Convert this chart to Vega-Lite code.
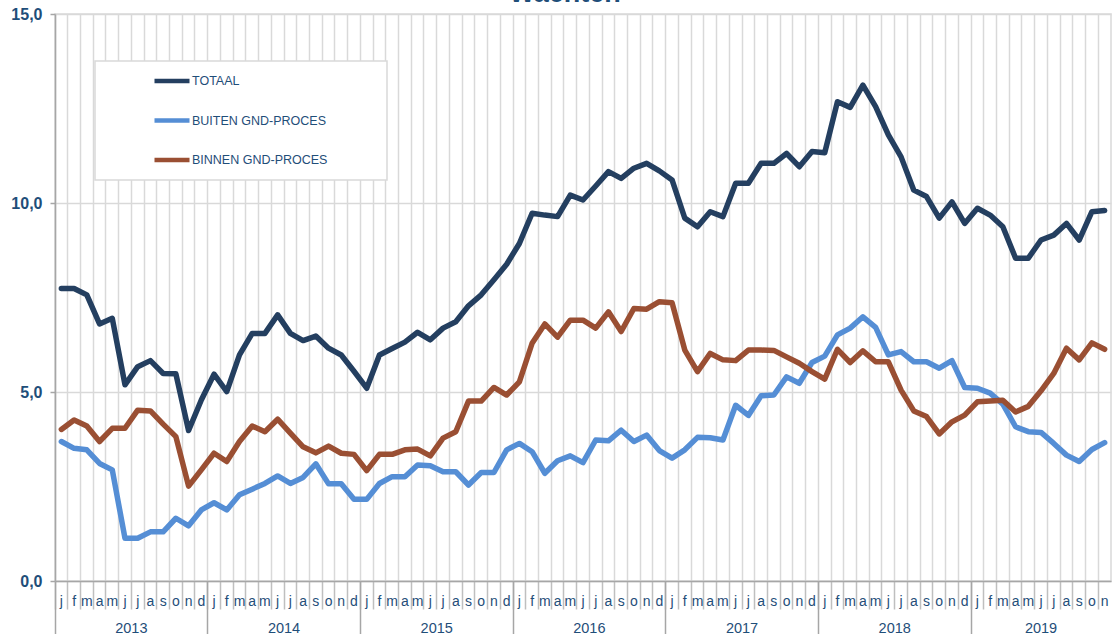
{
  "$schema": "https://vega.github.io/schema/vega-lite/v6.json",
  "width": 1056,
  "height": 567,
  "autosize": {"type": "none"},
  "padding": {"left": 55, "top": 14, "right": 1, "bottom": 53},
  "background": "white",
  "title": {
    "text": "Wachten",
    "font": "Liberation Sans",
    "fontSize": 27,
    "fontWeight": "bold",
    "color": "#1F4E79",
    "anchor": "middle",
    "frame": "group",
    "baseline": "alphabetic",
    "offset": -23,
    "dx": -18
  },
  "config": {
    "view": {"stroke": "#D9D9D9", "strokeWidth": 1.5},
    "legend": {"strokeWidth": 1.5}
  },
  "data": {
    "values": [
      {"maand": "2013-01", "TOTAAL": 7.74, "BUITEN GND-PROCES": 3.69, "BINNEN GND-PROCES": 4.01},
      {"maand": "2013-02", "TOTAAL": 7.74, "BUITEN GND-PROCES": 3.51, "BINNEN GND-PROCES": 4.26},
      {"maand": "2013-03", "TOTAAL": 7.57, "BUITEN GND-PROCES": 3.47, "BINNEN GND-PROCES": 4.10},
      {"maand": "2013-04", "TOTAAL": 6.80, "BUITEN GND-PROCES": 3.11, "BINNEN GND-PROCES": 3.69},
      {"maand": "2013-05", "TOTAAL": 6.95, "BUITEN GND-PROCES": 2.94, "BINNEN GND-PROCES": 4.04},
      {"maand": "2013-06", "TOTAAL": 5.19, "BUITEN GND-PROCES": 1.13, "BINNEN GND-PROCES": 4.04},
      {"maand": "2013-07", "TOTAAL": 5.67, "BUITEN GND-PROCES": 1.13, "BINNEN GND-PROCES": 4.52},
      {"maand": "2013-08", "TOTAAL": 5.83, "BUITEN GND-PROCES": 1.30, "BINNEN GND-PROCES": 4.50},
      {"maand": "2013-09", "TOTAAL": 5.49, "BUITEN GND-PROCES": 1.30, "BINNEN GND-PROCES": 4.15},
      {"maand": "2013-10", "TOTAAL": 5.48, "BUITEN GND-PROCES": 1.66, "BINNEN GND-PROCES": 3.82},
      {"maand": "2013-11", "TOTAAL": 3.98, "BUITEN GND-PROCES": 1.46, "BINNEN GND-PROCES": 2.51},
      {"maand": "2013-12", "TOTAAL": 4.79, "BUITEN GND-PROCES": 1.88, "BINNEN GND-PROCES": 2.94},
      {"maand": "2014-01", "TOTAAL": 5.47, "BUITEN GND-PROCES": 2.07, "BINNEN GND-PROCES": 3.38},
      {"maand": "2014-02", "TOTAAL": 5.01, "BUITEN GND-PROCES": 1.88, "BINNEN GND-PROCES": 3.16},
      {"maand": "2014-03", "TOTAAL": 5.98, "BUITEN GND-PROCES": 2.28, "BINNEN GND-PROCES": 3.69},
      {"maand": "2014-04", "TOTAAL": 6.55, "BUITEN GND-PROCES": 2.43, "BINNEN GND-PROCES": 4.10},
      {"maand": "2014-05", "TOTAAL": 6.55, "BUITEN GND-PROCES": 2.58, "BINNEN GND-PROCES": 3.95},
      {"maand": "2014-06", "TOTAAL": 7.04, "BUITEN GND-PROCES": 2.78, "BINNEN GND-PROCES": 4.28},
      {"maand": "2014-07", "TOTAAL": 6.55, "BUITEN GND-PROCES": 2.58, "BINNEN GND-PROCES": 3.91},
      {"maand": "2014-08", "TOTAAL": 6.36, "BUITEN GND-PROCES": 2.74, "BINNEN GND-PROCES": 3.55},
      {"maand": "2014-09", "TOTAAL": 6.48, "BUITEN GND-PROCES": 3.10, "BINNEN GND-PROCES": 3.39},
      {"maand": "2014-10", "TOTAAL": 6.16, "BUITEN GND-PROCES": 2.57, "BINNEN GND-PROCES": 3.57},
      {"maand": "2014-11", "TOTAAL": 5.98, "BUITEN GND-PROCES": 2.57, "BINNEN GND-PROCES": 3.38},
      {"maand": "2014-12", "TOTAAL": 5.55, "BUITEN GND-PROCES": 2.16, "BINNEN GND-PROCES": 3.35},
      {"maand": "2015-01", "TOTAAL": 5.10, "BUITEN GND-PROCES": 2.16, "BINNEN GND-PROCES": 2.92},
      {"maand": "2015-02", "TOTAAL": 5.98, "BUITEN GND-PROCES": 2.58, "BINNEN GND-PROCES": 3.35},
      {"maand": "2015-03", "TOTAAL": 6.15, "BUITEN GND-PROCES": 2.76, "BINNEN GND-PROCES": 3.35},
      {"maand": "2015-04", "TOTAAL": 6.32, "BUITEN GND-PROCES": 2.76, "BINNEN GND-PROCES": 3.47},
      {"maand": "2015-05", "TOTAAL": 6.58, "BUITEN GND-PROCES": 3.07, "BINNEN GND-PROCES": 3.49},
      {"maand": "2015-06", "TOTAAL": 6.38, "BUITEN GND-PROCES": 3.05, "BINNEN GND-PROCES": 3.31},
      {"maand": "2015-07", "TOTAAL": 6.69, "BUITEN GND-PROCES": 2.89, "BINNEN GND-PROCES": 3.78},
      {"maand": "2015-08", "TOTAAL": 6.86, "BUITEN GND-PROCES": 2.89, "BINNEN GND-PROCES": 3.95},
      {"maand": "2015-09", "TOTAAL": 7.28, "BUITEN GND-PROCES": 2.54, "BINNEN GND-PROCES": 4.76},
      {"maand": "2015-10", "TOTAAL": 7.57, "BUITEN GND-PROCES": 2.87, "BINNEN GND-PROCES": 4.76},
      {"maand": "2015-11", "TOTAAL": 7.97, "BUITEN GND-PROCES": 2.87, "BINNEN GND-PROCES": 5.12},
      {"maand": "2015-12", "TOTAAL": 8.38, "BUITEN GND-PROCES": 3.47, "BINNEN GND-PROCES": 4.92},
      {"maand": "2016-01", "TOTAAL": 8.93, "BUITEN GND-PROCES": 3.64, "BINNEN GND-PROCES": 5.27},
      {"maand": "2016-02", "TOTAAL": 9.73, "BUITEN GND-PROCES": 3.42, "BINNEN GND-PROCES": 6.29},
      {"maand": "2016-03", "TOTAAL": 9.68, "BUITEN GND-PROCES": 2.85, "BINNEN GND-PROCES": 6.80},
      {"maand": "2016-04", "TOTAAL": 9.64, "BUITEN GND-PROCES": 3.18, "BINNEN GND-PROCES": 6.45},
      {"maand": "2016-05", "TOTAAL": 10.21, "BUITEN GND-PROCES": 3.31, "BINNEN GND-PROCES": 6.90},
      {"maand": "2016-06", "TOTAAL": 10.08, "BUITEN GND-PROCES": 3.13, "BINNEN GND-PROCES": 6.90},
      {"maand": "2016-07", "TOTAAL": 10.45, "BUITEN GND-PROCES": 3.73, "BINNEN GND-PROCES": 6.69},
      {"maand": "2016-08", "TOTAAL": 10.83, "BUITEN GND-PROCES": 3.71, "BINNEN GND-PROCES": 7.12},
      {"maand": "2016-09", "TOTAAL": 10.65, "BUITEN GND-PROCES": 3.99, "BINNEN GND-PROCES": 6.60},
      {"maand": "2016-10", "TOTAAL": 10.92, "BUITEN GND-PROCES": 3.69, "BINNEN GND-PROCES": 7.21},
      {"maand": "2016-11", "TOTAAL": 11.05, "BUITEN GND-PROCES": 3.86, "BINNEN GND-PROCES": 7.19},
      {"maand": "2016-12", "TOTAAL": 10.85, "BUITEN GND-PROCES": 3.45, "BINNEN GND-PROCES": 7.39},
      {"maand": "2017-01", "TOTAAL": 10.61, "BUITEN GND-PROCES": 3.25, "BINNEN GND-PROCES": 7.36},
      {"maand": "2017-02", "TOTAAL": 9.60, "BUITEN GND-PROCES": 3.47, "BINNEN GND-PROCES": 6.11},
      {"maand": "2017-03", "TOTAAL": 9.37, "BUITEN GND-PROCES": 3.80, "BINNEN GND-PROCES": 5.54},
      {"maand": "2017-04", "TOTAAL": 9.77, "BUITEN GND-PROCES": 3.79, "BINNEN GND-PROCES": 6.02},
      {"maand": "2017-05", "TOTAAL": 9.64, "BUITEN GND-PROCES": 3.73, "BINNEN GND-PROCES": 5.85},
      {"maand": "2017-06", "TOTAAL": 10.52, "BUITEN GND-PROCES": 4.65, "BINNEN GND-PROCES": 5.83},
      {"maand": "2017-07", "TOTAAL": 10.52, "BUITEN GND-PROCES": 4.38, "BINNEN GND-PROCES": 6.11},
      {"maand": "2017-08", "TOTAAL": 11.05, "BUITEN GND-PROCES": 4.90, "BINNEN GND-PROCES": 6.11},
      {"maand": "2017-09", "TOTAAL": 11.05, "BUITEN GND-PROCES": 4.92, "BINNEN GND-PROCES": 6.10},
      {"maand": "2017-10", "TOTAAL": 11.31, "BUITEN GND-PROCES": 5.40, "BINNEN GND-PROCES": 5.93},
      {"maand": "2017-11", "TOTAAL": 10.96, "BUITEN GND-PROCES": 5.23, "BINNEN GND-PROCES": 5.76},
      {"maand": "2017-12", "TOTAAL": 11.36, "BUITEN GND-PROCES": 5.78, "BINNEN GND-PROCES": 5.54},
      {"maand": "2018-01", "TOTAAL": 11.33, "BUITEN GND-PROCES": 5.95, "BINNEN GND-PROCES": 5.34},
      {"maand": "2018-02", "TOTAAL": 12.68, "BUITEN GND-PROCES": 6.51, "BINNEN GND-PROCES": 6.13},
      {"maand": "2018-03", "TOTAAL": 12.53, "BUITEN GND-PROCES": 6.69, "BINNEN GND-PROCES": 5.78},
      {"maand": "2018-04", "TOTAAL": 13.12, "BUITEN GND-PROCES": 6.99, "BINNEN GND-PROCES": 6.09},
      {"maand": "2018-05", "TOTAAL": 12.55, "BUITEN GND-PROCES": 6.71, "BINNEN GND-PROCES": 5.80},
      {"maand": "2018-06", "TOTAAL": 11.80, "BUITEN GND-PROCES": 5.98, "BINNEN GND-PROCES": 5.80},
      {"maand": "2018-07", "TOTAAL": 11.22, "BUITEN GND-PROCES": 6.07, "BINNEN GND-PROCES": 5.05},
      {"maand": "2018-08", "TOTAAL": 10.34, "BUITEN GND-PROCES": 5.80, "BINNEN GND-PROCES": 4.50},
      {"maand": "2018-09", "TOTAAL": 10.17, "BUITEN GND-PROCES": 5.80, "BINNEN GND-PROCES": 4.35},
      {"maand": "2018-10", "TOTAAL": 9.60, "BUITEN GND-PROCES": 5.63, "BINNEN GND-PROCES": 3.89},
      {"maand": "2018-11", "TOTAAL": 10.03, "BUITEN GND-PROCES": 5.83, "BINNEN GND-PROCES": 4.21},
      {"maand": "2018-12", "TOTAAL": 9.46, "BUITEN GND-PROCES": 5.12, "BINNEN GND-PROCES": 4.39},
      {"maand": "2019-01", "TOTAAL": 9.86, "BUITEN GND-PROCES": 5.10, "BINNEN GND-PROCES": 4.74},
      {"maand": "2019-02", "TOTAAL": 9.68, "BUITEN GND-PROCES": 4.97, "BINNEN GND-PROCES": 4.76},
      {"maand": "2019-03", "TOTAAL": 9.37, "BUITEN GND-PROCES": 4.68, "BINNEN GND-PROCES": 4.78},
      {"maand": "2019-04", "TOTAAL": 8.54, "BUITEN GND-PROCES": 4.08, "BINNEN GND-PROCES": 4.47},
      {"maand": "2019-05", "TOTAAL": 8.54, "BUITEN GND-PROCES": 3.95, "BINNEN GND-PROCES": 4.62},
      {"maand": "2019-06", "TOTAAL": 9.02, "BUITEN GND-PROCES": 3.93, "BINNEN GND-PROCES": 5.03},
      {"maand": "2019-07", "TOTAAL": 9.15, "BUITEN GND-PROCES": 3.64, "BINNEN GND-PROCES": 5.49},
      {"maand": "2019-08", "TOTAAL": 9.46, "BUITEN GND-PROCES": 3.33, "BINNEN GND-PROCES": 6.16},
      {"maand": "2019-09", "TOTAAL": 9.02, "BUITEN GND-PROCES": 3.16, "BINNEN GND-PROCES": 5.85},
      {"maand": "2019-10", "TOTAAL": 9.77, "BUITEN GND-PROCES": 3.48, "BINNEN GND-PROCES": 6.30},
      {"maand": "2019-11", "TOTAAL": 9.80, "BUITEN GND-PROCES": 3.66, "BINNEN GND-PROCES": 6.13}
    ]
  },
  "transform": [
    {"fold": ["TOTAAL", "BUITEN GND-PROCES", "BINNEN GND-PROCES"], "as": ["reeks", "waarde"]}
  ],
  "layer": [
    {
      "mark": {"type": "line", "strokeWidth": 5.5, "strokeJoin": "round", "strokeCap": "round"},
      "encoding": {
        "x": {
          "field": "maand",
          "type": "ordinal",
          "bandPosition": 0.5,
          "scale": {"type": "band", "paddingInner": 0, "paddingOuter": 0},
          "axis": {
            "orient": "bottom",
            "title": null,
            "bandPosition": 0,
            "grid": true,
            "gridColor": "#D9D9D9",
            "gridWidth": 1.5,
            "ticks": true,
            "tickSize": 28,
            "tickColor": "#BFBFBF",
            "tickWidth": 1.5,
            "domain": true,
            "domainColor": "#A6A6A6",
            "domainWidth": 1.5,
            "labelExpr": "['j','f','m','a','m','j','j','a','s','o','n','d'][toNumber(slice(datum.value,5,7))-1]",
            "labelOffset": 0,
            "labelPadding": -4,
            "labelAlign": "center",
            "labelBaseline": "alphabetic",
            "labelAngle": 0,
            "labelFont": "Liberation Sans",
            "labelFontSize": 14,
            "labelColor": "#1F4E79",
            "labelOverlap": false,
            "labelFlush": false,
            "zindex": 0
          }
        },
        "y": {
          "field": "waarde",
          "type": "quantitative",
          "scale": {"domain": [0, 15], "nice": false, "zero": true},
          "axis": {
            "title": null,
            "values": [0, 5, 10, 15],
            "labelExpr": "replace(format(datum.value,'.1f'),'.',',')",
            "grid": true,
            "gridColor": "#D9D9D9",
            "gridWidth": 1.5,
            "domain": true,
            "domainColor": "#A6A6A6",
            "domainWidth": 1.5,
            "ticks": true,
            "tickSize": 5,
            "tickColor": "#A6A6A6",
            "tickWidth": 1.5,
            "labelPadding": 8,
            "labelFont": "Liberation Sans",
            "labelFontSize": 16,
            "labelFontWeight": "bold",
            "labelColor": "#1F4E79",
            "zindex": 0
          }
        },
        "color": {
          "field": "reeks",
          "type": "nominal",
          "scale": {
            "domain": ["TOTAAL", "BUITEN GND-PROCES", "BINNEN GND-PROCES"],
            "range": ["#243F60", "#558ED5", "#9A4F33"]
          },
          "legend": {
            "orient": "none",
            "legendX": 40,
            "legendY": 47,
            "direction": "vertical",
            "title": "\u00a0",
            "titleOrient": "right",
            "titleAnchor": "start",
            "titleBaseline": "top",
            "titleFontSize": 120,
            "titleLimit": 0,
            "titlePadding": 60,
            "symbolType": "stroke",
            "symbolSize": 1225,
            "symbolStrokeWidth": 4.5,
            "symbolOffset": 57,
            "labelOffset": 0,
            "rowPadding": 10.5,
            "padding": 0,
            "labelFont": "Liberation Sans",
            "labelFontSize": 12.5,
            "labelColor": "#1F4E79",
            "fillColor": "white",
            "strokeColor": "#D9D9D9"
          }
        }
      }
    },
    {
      "mark": {"type": "point", "opacity": 0},
      "encoding": {
        "x": {
          "field": "maand",
          "type": "ordinal",
          "scale": {"type": "band", "paddingInner": 0, "paddingOuter": 0},
          "axis": {
            "orient": "bottom",
            "title": null,
            "bandPosition": 0,
            "values": ["2013-01", "2014-01", "2015-01", "2016-01", "2017-01", "2018-01", "2019-01"],
            "grid": false,
            "domain": false,
            "labels": false,
            "ticks": true,
            "tickSize": 53,
            "tickColor": "#A6A6A6",
            "tickWidth": 1.5,
            "zindex": 0
          }
        }
      }
    },
    {
      "mark": {"type": "point", "opacity": 0},
      "encoding": {
        "x": {
          "field": "maand",
          "type": "ordinal",
          "scale": {"type": "band", "paddingInner": 0, "paddingOuter": 0},
          "axis": {
            "orient": "bottom",
            "title": null,
            "bandPosition": 0,
            "values": ["2013-07", "2014-07", "2015-07", "2016-07", "2017-07", "2018-07", "2019-06"],
            "grid": false,
            "domain": false,
            "ticks": false,
            "tickSize": 0,
            "labelExpr": "slice(datum.value,0,4)",
            "labelOffset": {"condition": {"test": "datum.value == '2019-06'", "value": 0}, "value": -6.36},
            "labelPadding": 51,
            "labelAlign": "center",
            "labelBaseline": "alphabetic",
            "labelAngle": 0,
            "labelFont": "Liberation Sans",
            "labelFontSize": 14.5,
            "labelColor": "#1F4E79",
            "labelOverlap": false,
            "labelFlush": false,
            "zindex": 0
          }
        }
      }
    }
  ],
  "resolve": {"axis": {"x": "independent"}}
}
